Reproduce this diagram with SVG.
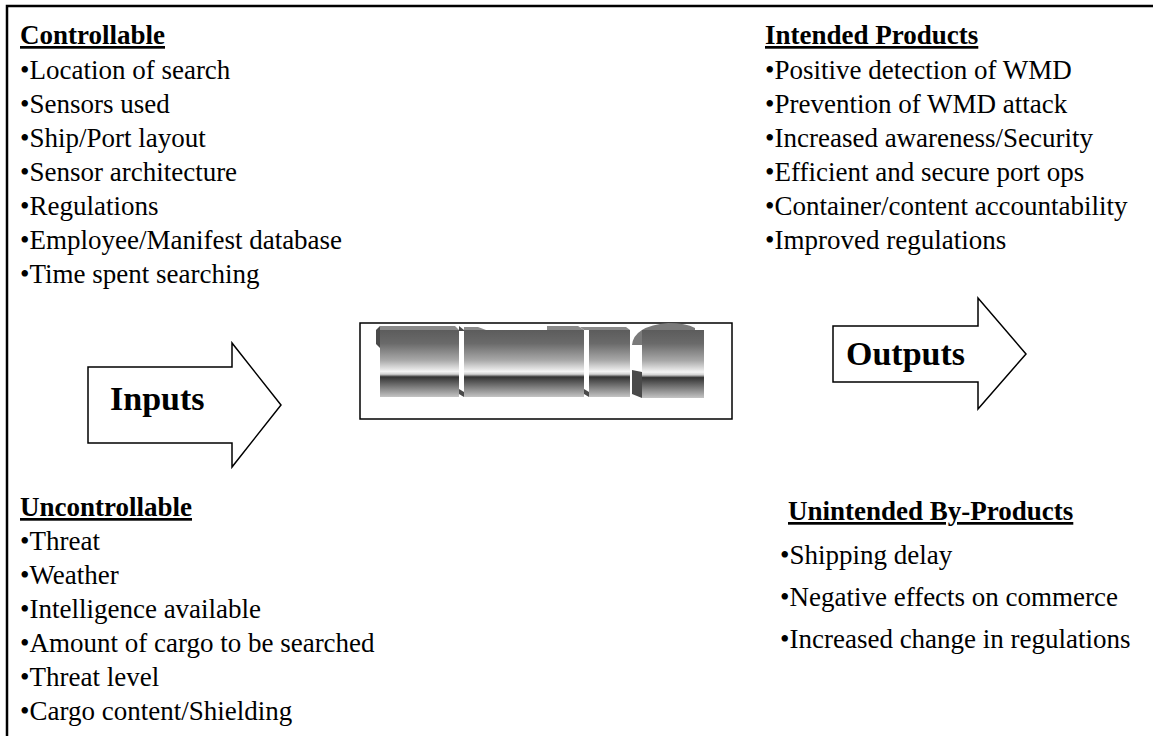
<svg xmlns="http://www.w3.org/2000/svg" width="1153" height="736" viewBox="0 0 1153 736">
<style>
  .h { font-family: "Liberation Serif", "Times New Roman", serif; font-weight: bold; font-size: 27px; text-decoration: underline; fill: #000; }
  .t { font-family: "Liberation Serif", "Times New Roman", serif; font-size: 27px; fill: #000; }
  .big { font-family: "Liberation Serif", "Times New Roman", serif; font-weight: bold; font-size: 34px; fill: #000; }
  .arrow { fill: #fff; stroke: #000; stroke-width: 1.5; }
  .blk { fill: url(#metal); }
  .side { fill: #4a4a4a; }
  .top { fill: #8a8a8a; }
</style>
<defs>
  <linearGradient id="metal" x1="0" y1="0" x2="0" y2="1">
    <stop offset="0" stop-color="#5c5c5c"/>
    <stop offset="0.2" stop-color="#6a6a6a"/>
    <stop offset="0.45" stop-color="#a8a8a8"/>
    <stop offset="0.62" stop-color="#f4f4f4"/>
    <stop offset="0.66" stop-color="#d0d0d0"/>
    <stop offset="0.70" stop-color="#333333"/>
    <stop offset="0.78" stop-color="#5a5a5a"/>
    <stop offset="1" stop-color="#c4c4c4"/>
  </linearGradient>
</defs>
<rect x="0" y="0" width="1153" height="736" fill="#fff"/>
<path d="M7,740 L7,6 L1160,6" fill="none" stroke="#000" stroke-width="2.5"/>

<g id="controllable">
  <text class="h" x="20" y="44">Controllable</text>
  <text class="t" x="20" y="79">•Location of search</text>
  <text class="t" x="20" y="113">•Sensors used</text>
  <text class="t" x="20" y="147">•Ship/Port layout</text>
  <text class="t" x="20" y="181">•Sensor architecture</text>
  <text class="t" x="20" y="215">•Regulations</text>
  <text class="t" x="20" y="249">•Employee/Manifest database</text>
  <text class="t" x="20" y="283">•Time spent searching</text>
</g>

<g id="intended-products">
  <text class="h" x="765" y="44">Intended Products</text>
  <text class="t" x="765" y="79">•Positive detection of WMD</text>
  <text class="t" x="765" y="113">•Prevention of WMD attack</text>
  <text class="t" x="765" y="147">•Increased awareness/Security</text>
  <text class="t" x="765" y="181">•Efficient and secure port ops</text>
  <text class="t" x="765" y="215">•Container/content accountability</text>
  <text class="t" x="765" y="249">•Improved regulations</text>
</g>

<g id="uncontrollable">
  <text class="h" x="20" y="516">Uncontrollable</text>
  <text class="t" x="20" y="550">•Threat</text>
  <text class="t" x="20" y="584">•Weather</text>
  <text class="t" x="20" y="618">•Intelligence available</text>
  <text class="t" x="20" y="652">•Amount of cargo to be searched</text>
  <text class="t" x="20" y="686">•Threat level</text>
  <text class="t" x="20" y="720">•Cargo content/Shielding</text>
</g>

<g id="unintended-by-products">
  <text class="h" x="788" y="520">Unintended By-Products</text>
  <text class="t" x="780" y="564">•Shipping delay</text>
  <text class="t" x="780" y="606">•Negative effects on commerce</text>
  <text class="t" x="780" y="648">•Increased change in regulations</text>
</g>

<g id="inputs-arrow">
  <path class="arrow" d="M88,367 L232,367 L232,343 L281,405 L232,467 L232,443 L88,443 Z"/>
  <text class="big" x="110" y="410">Inputs</text>
</g>

<g id="process-box">
  <rect x="360" y="323" width="372" height="96" fill="#fff" stroke="#000" stroke-width="1.5"/>
  <!-- extruded backs -->
  <polygon class="side" points="376,330 380,326 380,348 376,344"/>
  <polygon class="top" points="380,326 455,326 459,330 380,330"/>
  <polygon class="side" points="459,326 464,330 464,331 459,331"/>
  <polygon class="top" points="464,327 478,327 486,330 464,330"/>
  <polygon class="top" points="547,326 578,326 584,330 547,330"/>
  <polygon class="top" points="580,327 626,327 630,330 584,330"/>
  <path d="M632,345 Q634,326 668,323 Q686,323 695,328 L695,330 L642,330 L642,345 Z" fill="#7a7a7a"/>
  <polygon class="side" points="632,370 642,372 642,398 632,394"/>
  <polygon class="side" points="459,389 464,392 464,397 459,394"/>
  <polygon class="side" points="584,389 589,392 589,397 584,394"/>
  <!-- fronts -->
  <rect class="blk" x="380" y="330" width="79" height="67"/>
  <rect class="blk" x="464" y="330" width="120" height="67"/>
  <rect class="blk" x="589" y="330" width="41" height="67"/>
  <rect class="blk" x="642" y="330" width="62" height="68"/>
</g>

<g id="outputs-arrow">
  <path class="arrow" d="M833,326 L978,326 L978,298 L1026,354 L978,409 L978,382 L833,382 Z"/>
  <text class="big" x="846" y="365">Outputs</text>
</g>

<g id="connectors"></g>
</svg>
